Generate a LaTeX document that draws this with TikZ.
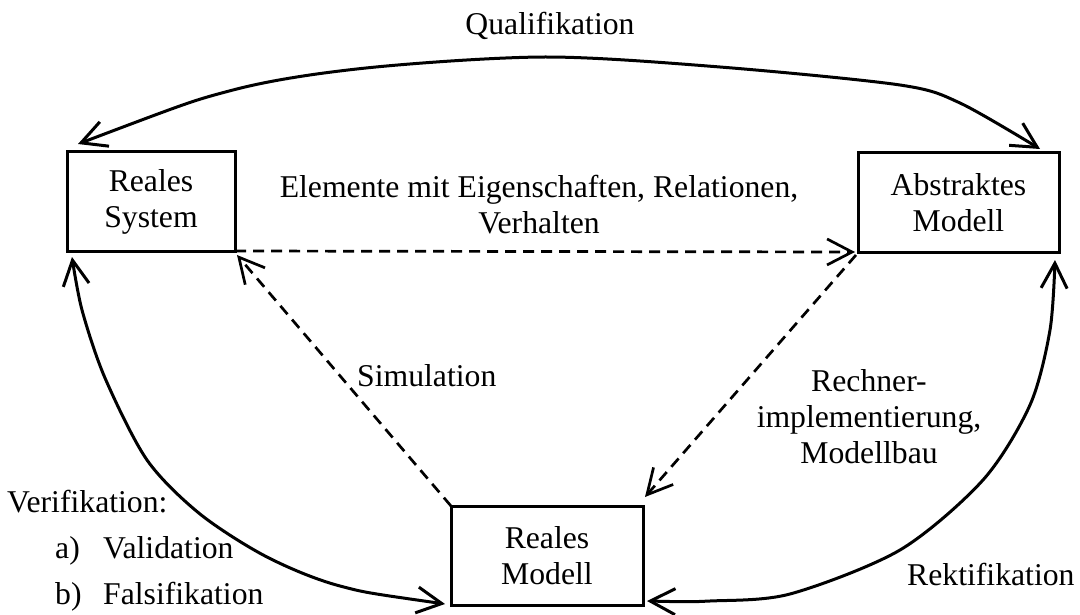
\documentclass[tikz,border=0pt]{standalone}
\usepackage{fontspec}
\setmainfont{Liberation Serif}
\usetikzlibrary{arrows.meta}
\begin{document}
\begin{tikzpicture}[x=1pt,y=-1pt,
  >={Straight Barb[length=25pt,width=26pt]},
  every node/.style={font=\fontsize{31.7}{36}\selectfont},
  stbox/.style={draw, line width=3pt, minimum height=99pt, inner sep=0pt,
    outer sep=0pt, align=center},
  link/.style={line width=3pt, <->},
  dashlink/.style={line width=2.7pt, dash pattern=on 11pt off 7pt, ->},
  txt/.style={inner sep=0pt, align=center}]
\useasboundingbox (0,0) rectangle (1080,615);

% the three models
\node[stbox, minimum width=168pt] (rs) at (151,201.5) {Reales\\System};
\node[stbox, minimum width=201pt] (am) at (958.5,202.5) {Abstraktes\\Modell};
\node[stbox, minimum width=192pt] (rm) at (547,555.5) {Reales\\Modell};

% dashed transitions
\draw[dashlink] (rs.south east) -- ([xshift=-3pt]am.south west);
\draw[dashlink] (rm.north west) -- ([shift={(2,4)}]rs.south east);
\draw[dashlink] ([shift={(-2,3)}]am.south west) -- ([shift={(2,-9)}]rm.north east);

% solid arcs
\draw[link] plot[smooth] coordinates {([shift={(11,-8)}]rs.north west)
  (233,90) (366,68) (545,57) (720,67) (900,85) (960,103)
  ([shift={(-19,-4)}]am.north east)};
\draw[link] plot[smooth] coordinates {([shift={(-6,-1)}]rm.south west)
  (340,586) (267,557) (200,514) (147,460) (105,378) (82,310)
  ([shift={(5,6)}]rs.south west)};
\draw[link] plot[smooth] coordinates {([shift={(4,-4)}]rm.south east)
  (710,601) (790,594) (900,550) (983,480) (1030,405) (1050,330)
  ([shift={(-4,8)}]am.south east)};

% labels
\node[txt, anchor=base] (qual) at (550,35) {Qualifikation};
\node[txt] (elem) at (539,204.2) {Elemente mit Eigenschaften, Relationen,\\Verhalten};
\node[txt, anchor=base west] (sim) at (357,386) {Simulation};
\node[txt] (impl) at (869,416.2) {Rechner-\\implementierung,\\Modellbau};
\node[txt, anchor=base west] (rekt) at (907,585) {Rektifikation};
\node[txt, align=left, anchor=west,
  font=\fontsize{31.7}{46}\selectfont] (verif) at (7,551)
  {Verifikation:\\
   \hspace*{48pt}\makebox[48pt][l]{a)}Validation\\
   \hspace*{48pt}\makebox[48pt][l]{b)}Falsifikation};
\end{tikzpicture}
\end{document}
